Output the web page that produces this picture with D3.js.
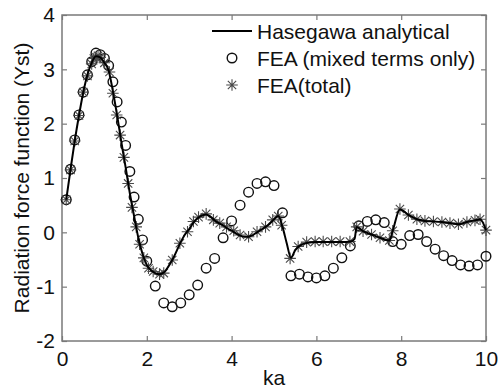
<!DOCTYPE html>
<meta charset="utf-8">
<style>
  body { margin: 0; background: #fff; }
  text { font-family: Arial, "Liberation Sans", sans-serif; fill: #111; }
  .box { fill: none; stroke: #7a7a7a; stroke-width: 1.5px; }
  .tick line { stroke: #7a7a7a; stroke-width: 1.2px; }
</style>
<body>
<script src="https://cdn.jsdelivr.net/npm/d3@7"></script>
<script>

  // Hasegawa analytical curve
  var hasegawaKa = [0.1,0.2,0.3,0.4,0.5,0.6,0.7,0.8,0.9,1.0,1.1,1.2,1.3,1.4,1.5,1.6,1.7,1.8,1.9,2.0,
    2.1,2.2,2.3,2.4,2.5,2.6,2.7,2.8,2.9,3.0,3.1,3.2,3.3,3.4,3.5,3.6,3.7,3.8,3.9,4.0,
    4.1,4.2,4.3,4.4,4.5,4.6,4.7,4.8,4.9,5.0,5.1,5.2,5.3,5.4,5.5,5.6,5.8,6.0,6.2,6.4,
    6.6,6.8,6.9,6.95,7.1,7.3,7.5,7.72,7.8,7.97,8.17,8.37,8.56,8.76,8.96,9.15,9.35,9.55,9.74,9.86,10.0];
  var hasegawaY = [0.6,1.15,1.68,2.15,2.57,2.9,3.12,3.24,3.22,3.12,2.98,2.6,2.15,1.66,1.2,0.72,0.3,-0.1,-0.4,-0.6,
    -0.7,-0.75,-0.77,-0.74,-0.64,-0.51,-0.35,-0.18,-0.04,0.06,0.18,0.26,0.31,0.33,0.29,0.22,0.17,0.13,0.07,0.03,
    -0.02,-0.06,-0.08,-0.08,-0.05,0.0,0.05,0.1,0.16,0.24,0.3,0.1,-0.2,-0.47,-0.33,-0.25,-0.19,-0.18,-0.18,-0.18,
    -0.18,-0.17,-0.12,0.1,0.02,-0.04,-0.1,-0.15,0.03,0.42,0.32,0.24,0.21,0.2,0.19,0.17,0.15,0.19,0.22,0.24,0.04];

  // FEA (mixed terms only)
  var mixedKa = [0.1,0.2,0.3,0.4,0.5,0.6,0.7,0.8,0.9,1.0,1.1,1.2,1.3,1.4,1.5,1.6,1.7,1.8,1.9,2.0,
    2.2,2.4,2.6,2.8,3.0,3.2,3.4,3.6,3.8,4.0,4.2,4.4,4.6,4.8,5.0,5.2,5.4,5.6,5.8,6.0,
    6.2,6.4,6.6,6.8,7.0,7.2,7.4,7.6,7.8,8.0,8.2,8.4,8.6,8.8,9.0,9.2,9.4,9.6,9.8,10.0];
  var mixedY = [0.6,1.16,1.7,2.16,2.58,2.9,3.14,3.3,3.27,3.2,3.07,2.77,2.4,2.03,1.6,1.12,0.65,0.24,-0.14,-0.53,
    -0.99,-1.3,-1.37,-1.3,-1.15,-0.97,-0.66,-0.48,-0.1,0.21,0.5,0.74,0.9,0.93,0.86,0.36,-0.8,-0.77,-0.82,-0.84,
    -0.8,-0.66,-0.47,-0.25,0.12,0.2,0.23,0.18,-0.17,-0.22,-0.06,-0.04,-0.17,-0.31,-0.43,-0.52,-0.6,-0.62,-0.6,-0.44];

  // FEA(total)
  var totalKa = [0.1,0.2,0.3,0.4,0.5,0.6,0.7,0.75,0.8,0.85,0.9,1.0,1.12,1.2,1.29,1.37,1.46,1.56,1.65,1.75,
    1.83,1.93,2.04,2.15,2.3,2.4,2.6,2.78,2.96,3.1,3.22,3.4,3.57,3.72,3.88,4.05,4.2,4.4,4.6,4.8,
    4.97,5.1,5.18,5.38,5.57,5.77,5.97,6.16,6.36,6.56,6.79,6.95,7.1,7.3,7.5,7.72,7.8,7.97,8.17,8.37,
    8.56,8.76,8.96,9.15,9.35,9.55,9.74,9.86,10.0];
  var totalY = [0.6,1.15,1.68,2.15,2.58,2.88,3.1,3.2,3.22,3.25,3.22,3.12,2.95,2.56,2.16,1.79,1.38,0.9,0.46,0.1,
    -0.22,-0.47,-0.66,-0.72,-0.77,-0.75,-0.51,-0.2,0.01,0.2,0.28,0.34,0.23,0.17,0.1,0.03,-0.05,-0.08,0.01,0.1,
    0.23,0.3,0.13,-0.48,-0.26,-0.18,-0.17,-0.17,-0.17,-0.17,-0.17,0.1,0.02,-0.04,-0.1,-0.15,0.03,0.43,0.32,0.24,
    0.21,0.2,0.19,0.17,0.15,0.19,0.22,0.24,0.04];

  var xTicks = [0, 2, 4, 6, 8, 10];
  var yTicks = [-2, -1, 0, 1, 2, 3, 4];
  var legendLabels = ["Hasegawa analytical", "FEA (mixed terms only)", "FEA(total)"];

  var width = 498, height = 390;
  var margin = { top: 15, right: 12, bottom: 49, left: 62 };
  var w = width - margin.left - margin.right,
      h = height - margin.top - margin.bottom;
  var fontSize = "21px";

  var svg = d3.select("body").append("svg")
    .attr("width", width)
    .attr("height", height);

  var g = svg.append("g")
    .attr("transform", "translate(" + margin.left + "," + margin.top + ")");

  var x = d3.scaleLinear().domain([0, 10]).range([0, w]);
  var y = d3.scaleLinear().domain([-2, 4]).range([h, 0]);

  // plain "-2" style labels, like matlab
  var fmt = function(d) { return String(d); };

  // axes, ticks pointing inward like matlab
  function styleAxis(sel, showText) {
    sel.select(".domain").remove();
    sel.selectAll("text").style("font-size", fontSize).attr("fill", "#111");
    if (!showText) sel.selectAll("text").remove();
  }

  g.append("g")
    .attr("transform", "translate(0," + h + ")")
    .call(d3.axisBottom(x).tickValues(xTicks).tickFormat(fmt).tickSizeInner(-5).tickPadding(10))
    .call(styleAxis, true);
  g.append("g")
    .call(d3.axisTop(x).tickValues(xTicks).tickSizeInner(-5))
    .call(styleAxis, false);
  g.append("g")
    .call(d3.axisLeft(y).tickValues(yTicks).tickFormat(fmt).tickSizeInner(-5).tickPadding(7))
    .call(styleAxis, true);
  g.append("g")
    .attr("transform", "translate(" + w + ",0)")
    .call(d3.axisRight(y).tickValues(yTicks).tickSizeInner(-5))
    .call(styleAxis, false);

  g.append("rect")
    .attr("class", "box")
    .attr("width", w)
    .attr("height", h);

  // axis labels
  svg.append("text")
    .attr("x", margin.left + w / 2)
    .attr("y", 385)
    .attr("text-anchor", "middle")
    .style("font-size", fontSize)
    .text("ka");

  svg.append("text")
    .attr("transform", "translate(29," + (margin.top + h / 2) + ") rotate(-90)")
    .attr("text-anchor", "middle")
    .style("font-size", fontSize)
    .text("Radiation force function (Yst)");

  var starPath = function(r) {
    var d = r * 0.72;
    return "M" + (-r) + ",0H" + r + "M0," + (-r) + "V" + r +
      "M" + (-d) + "," + (-d) + "L" + d + "," + d +
      "M" + (-d) + "," + d + "L" + d + "," + (-d);
  };

  var mixed = mixedKa.map(function(k, i) { return [k, mixedY[i]]; });
  var total = totalKa.map(function(k, i) { return [k, totalY[i]]; });
  var hase = hasegawaKa.map(function(k, i) { return [k, hasegawaY[i]]; });

  g.selectAll(".mixed")
    .data(mixed)
    .enter().append("circle")
    .attr("class", "mixed")
    .attr("cx", function(d) { return x(d[0]); })
    .attr("cy", function(d) { return y(d[1]); })
    .attr("r", 4.8)
    .attr("fill", "none")
    .attr("stroke", "#111")
    .attr("stroke-width", 1.4);

  g.selectAll(".total")
    .data(total)
    .enter().append("path")
    .attr("class", "total")
    .attr("transform", function(d) { return "translate(" + x(d[0]) + "," + y(d[1]) + ")"; })
    .attr("d", starPath(5.8))
    .attr("fill", "none")
    .attr("stroke", "#4a4a4a")
    .attr("stroke-width", 1.1);

  g.append("path")
    .datum(hase)
    .attr("fill", "none")
    .attr("stroke", "#000")
    .attr("stroke-width", 2)
    .attr("d", d3.line()
      .x(function(d) { return x(d[0]); })
      .y(function(d) { return y(d[1]); })
      .curve(d3.curveMonotoneX));

  // legend (no box)
  var legend = svg.append("g");
  var rowY = [31, 58, 85];
  legend.append("line")
    .attr("x1", 212).attr("x2", 252)
    .attr("y1", rowY[0]).attr("y2", rowY[0])
    .attr("stroke", "#000").attr("stroke-width", 2);
  legend.append("circle")
    .attr("cx", 232).attr("cy", rowY[1]).attr("r", 4.8)
    .attr("fill", "none").attr("stroke", "#111").attr("stroke-width", 1.4);
  legend.append("path")
    .attr("transform", "translate(232," + rowY[2] + ")")
    .attr("d", starPath(5.8))
    .attr("fill", "none").attr("stroke", "#4a4a4a").attr("stroke-width", 1.1);

  legend.selectAll(".lbl")
    .data(legendLabels)
    .enter().append("text")
    .attr("class", "lbl")
    .attr("x", 257)
    .attr("y", function(d, i) { return rowY[i]; })
    .attr("dy", "0.36em")
    .style("font-size", fontSize)
    .text(function(d) { return d; });

</script>
</body>
